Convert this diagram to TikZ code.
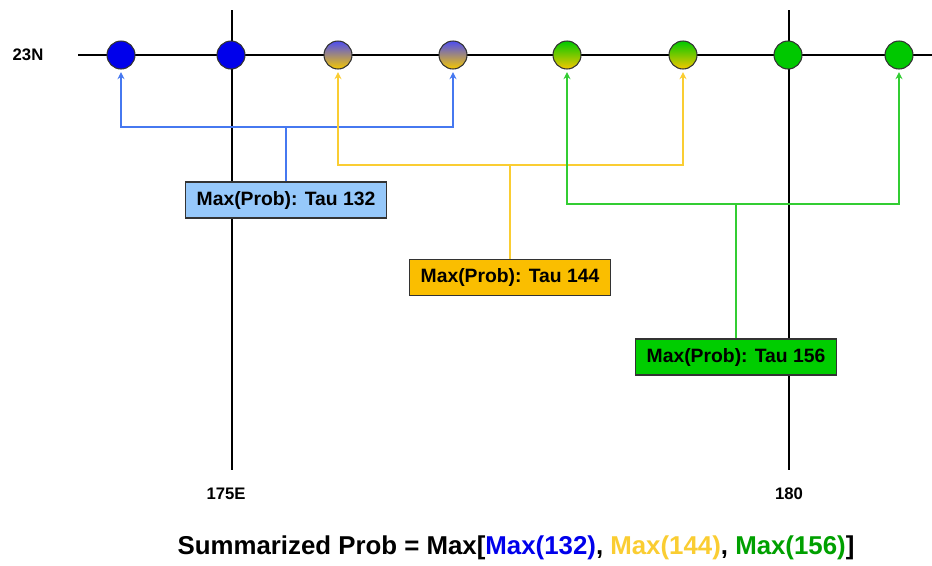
\documentclass[tikz,border=0pt]{standalone}
\usepackage{fontspec}
\setmainfont{Liberation Sans}
\usepackage{tikz}
\usetikzlibrary{arrows.meta,positioning,calc}
\definecolor{dotblue}{RGB}{0, 0, 235}
\definecolor{dotgreen}{RGB}{0, 200, 0}
\definecolor{dotyellow}{RGB}{245, 200, 0}
\definecolor{lineblue}{RGB}{70, 120, 240}
\definecolor{lineyellow}{RGB}{250, 205, 50}
\definecolor{linegreen}{RGB}{50, 205, 50}
\definecolor{boxblue}{RGB}{150, 200, 250}
\definecolor{boxyellow}{RGB}{250, 190, 0}
\definecolor{boxgreen}{RGB}{0, 205, 0}
\tikzset{
  axis/.style={line width=1.6pt},
  dot/.style={circle,draw=black!80,line width=0.6pt,minimum size=0.56cm,inner sep=0pt},
  probbox/.style={draw=black!80,line width=0.6pt,minimum width=4.02cm,minimum height=0.72cm,font=\bfseries\fontsize{11}{13}\selectfont},
  link/.style={line width=1.1pt,-{Stealth[length=4pt,width=4pt]},shorten >=1.5pt},
}
\begin{document}
\begin{tikzpicture}[x=0.02cm,y=-0.02cm]
   \useasboundingbox (0,0) rectangle (932,565);
   % grid lines
   \coordinate (W) at (78,55);
   \coordinate (E) at (932,55);
   \draw[axis] (W) -- (E);
   \draw[axis] (232,10) -- (232,470);
   \draw[axis] (789,10) -- (789,470);
   \node (lat) at (28,55) {\bfseries\fontsize{9.5}{10}\selectfont 23N};
   \node (lon1) at (226,494) {\bfseries\fontsize{9.5}{10}\selectfont 175E};
   \node (lon2) at (789,494) {\bfseries\fontsize{9.5}{10}\selectfont 180};
   % dots along 23N
   \node[dot,fill=dotblue] (c1) at (121,55) {};
   \node[dot,fill=dotblue] (c2) at (231,55) {};
   \node[dot,top color=dotblue!70!white,bottom color=dotyellow] (c3) at (338,55) {};
   \node[dot,top color=dotblue!70!white,bottom color=dotyellow] (c4) at (453,55) {};
   \node[dot,top color=dotgreen,bottom color=dotyellow] (c5) at (567,55) {};
   \node[dot,top color=dotgreen,bottom color=dotyellow] (c6) at (683,55) {};
   \node[dot,fill=dotgreen] (c7) at (788,55) {};
   \node[dot,fill=dotgreen] (c8) at (899,55) {};
   % boxes
   \node[probbox,fill=boxblue] (tau132) at (286,200) {Max(Prob): Tau 132};
   \node[probbox,fill=boxyellow] (tau144) at (510,277.5) {Max(Prob): Tau 144};
   \node[probbox,fill=boxgreen] (tau156) at (736,357) {Max(Prob): Tau 156};
   \coordinate (j132) at (tau132.north |- 0,127);
   \coordinate (j144) at (tau144.north |- 0,165);
   \coordinate (j156) at (tau156.north |- 0,204);
   % connectors
   \draw[lineblue,line width=1.1pt] (tau132.north) -- (j132);
   \draw[link,lineblue] (j132) -| (c1.south);
   \draw[link,lineblue] (j132) -| (c4.south);
   \draw[lineyellow,line width=1.1pt] (tau144.north) -- (j144);
   \draw[link,lineyellow] (j144) -| (c3.south);
   \draw[link,lineyellow] (j144) -| (c6.south);
   \draw[linegreen,line width=1.1pt] (tau156.north) -- (j156);
   \draw[link,linegreen] (j156) -| (c5.south);
   \draw[link,linegreen] (j156) -| (c8.south);
   % summary
   \node (summary) at (516,548) {\bfseries\fontsize{14.7}{17}\selectfont Summarized Prob = Max[\textcolor{dotblue}{Max(132)}, \textcolor{lineyellow}{Max(144)}, \textcolor{dotgreen!80!black}{Max(156)}]};
\end{tikzpicture}
\end{document}
